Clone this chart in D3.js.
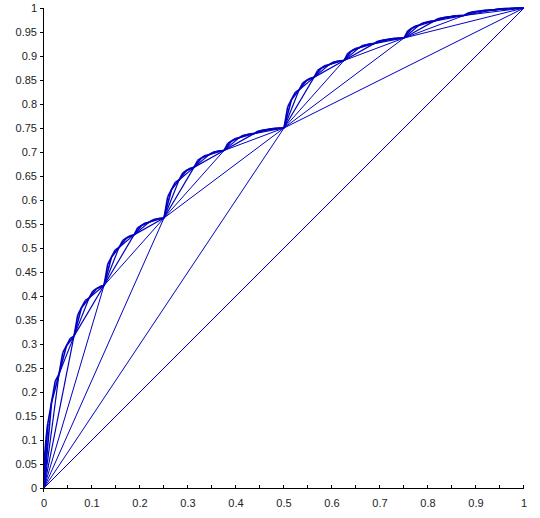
<!DOCTYPE html>
<html><head><meta charset="utf-8">
<script src="https://cdn.jsdelivr.net/npm/d3@7"></script>
<style>body{margin:0;background:#fff}svg{display:block}text{font-family:"Liberation Sans",Arial,sans-serif;font-size:11px;fill:#222}</style>
</head><body><div id="c"></div>
<script>
// curve vertices at x = k/128
const xs = [0,0.0078,0.0156,0.0234,0.0313,0.0391,0.0469,0.0547,0.0625,0.0703,0.0781,0.0859,0.0938,0.1016,0.1094,0.1172,0.125,0.1328,0.1406,0.1484,0.1563,0.1641,0.1719,0.1797,0.1875,0.1953,0.2031,0.2109,0.2188,0.2266,0.2344,0.2422,0.25,
0.2578,0.2656,0.2734,0.2813,0.2891,0.2969,0.3047,0.3125,0.3203,0.3281,0.3359,0.3438,0.3516,0.3594,0.3672,0.375,0.3828,0.3906,0.3984,0.4063,0.4141,0.4219,0.4297,0.4375,0.4453,0.4531,0.4609,0.4688,0.4766,0.4844,0.4922,0.5,
0.5078,0.5156,0.5234,0.5313,0.5391,0.5469,0.5547,0.5625,0.5703,0.5781,0.5859,0.5938,0.6016,0.6094,0.6172,0.625,0.6328,0.6406,0.6484,0.6563,0.6641,0.6719,0.6797,0.6875,0.6953,0.7031,0.7109,0.7188,0.7266,0.7344,0.7422,0.75,
0.7578,0.7656,0.7734,0.7813,0.7891,0.7969,0.8047,0.8125,0.8203,0.8281,0.8359,0.8438,0.8516,0.8594,0.8672,0.875,0.8828,0.8906,0.8984,0.9063,0.9141,0.9219,0.9297,0.9375,0.9453,0.9531,0.9609,0.9688,0.9766,0.9844,0.9922,1];
const ys = [0,0.1335,0.1780,0.2225,0.2373,0.2818,0.2966,0.3115,0.3164,0.3609,0.3757,0.3906,0.3955,0.4103,0.4153,0.4202,0.4219,0.4664,0.4812,0.4960,0.5010,0.5158,0.5208,0.5257,0.5273,0.5422,0.5471,0.5521,0.5537,0.5587,0.5603,0.5620,0.5625,
0.6070,0.6218,0.6367,0.6416,0.6564,0.6614,0.6663,0.6680,0.6828,0.6877,0.6927,0.6943,0.6993,0.7009,0.7026,0.7031,0.7180,0.7229,0.7278,0.7295,0.7344,0.7361,0.7377,0.7383,0.7432,0.7449,0.7465,0.7471,0.7487,0.7493,0.7498,0.75,
0.7945,0.8093,0.8242,0.8291,0.8439,0.8489,0.8538,0.8555,0.8703,0.8752,0.8802,0.8818,0.8868,0.8884,0.8901,0.8906,0.9055,0.9104,0.9153,0.9170,0.9219,0.9236,0.9252,0.9258,0.9307,0.9324,0.9340,0.9346,0.9362,0.9368,0.9373,0.9375,
0.9523,0.9573,0.9622,0.9639,0.9688,0.9705,0.9721,0.9727,0.9776,0.9792,0.9809,0.9814,0.9831,0.9836,0.9842,0.9844,0.9893,0.9910,0.9926,0.9932,0.9948,0.9954,0.9959,0.9961,0.9977,0.9983,0.9988,0.9990,0.9996,0.9998,0.9999,1];
// extra vertices very close to the origin
const xsNear0 = [0.00390625,0.001953125,0.0009765625,0.00048828125];
const ysNear0 = [0.1001,0.0751,0.0563,0.0422];
const yTicks = [0,0.05,0.1,0.15,0.2,0.25,0.3,0.35,0.4,0.45,0.5,0.55,0.6,0.65,0.7,0.75,0.8,0.85,0.9,0.95,1];
const yTickLabels = ["0","0.05","0.1","0.15","0.2","0.25","0.3","0.35","0.4","0.45","0.5","0.55","0.6","0.65","0.7","0.75","0.8","0.85","0.9","0.95","1"];
const xTicks = [0,0.1,0.2,0.3,0.4,0.5,0.6,0.7,0.8,0.9,1];
const xTickLabels = ["0","0.1","0.2","0.3","0.4","0.5","0.6","0.7","0.8","0.9","1"];
const xMinor = [0.05,0.15,0.25,0.35,0.45,0.55,0.65,0.75,0.85,0.95];

const W=540,H=518;
const x=d3.scaleLinear().domain([0,1]).range([44,524]);
const y=d3.scaleLinear().domain([0,1]).range([488,8]);
const svg=d3.select("#c").append("svg").attr("width",W).attr("height",H);

// chords of every dyadic interval
const segs=[];
const N=xs.length-1;
for(let step=N;step>=1;step=step/2){
  for(let i=0;i+step<=N;i+=step){segs.push({s:step,p:[xs[i],ys[i],xs[i+step],ys[i+step]]});}
}
for(let j=0;j<xsNear0.length;j++){
  segs.push({s:N,p:[0,0,xsNear0[j],ysNear0[j]]});
  const px = j===0? xs[1]:xsNear0[j-1], py = j===0? ys[1]:ysNear0[j-1];
  segs.push({s:1,p:[xsNear0[j],ysNear0[j],px,py]});
}
svg.append("g").selectAll("line").data(segs).join("line")
  .attr("x1",d=>x(d.p[0])).attr("y1",d=>y(d.p[1])).attr("x2",d=>x(d.p[2])).attr("y2",d=>y(d.p[3]))
  .attr("stroke","#0000c0").attr("stroke-width",d=>d.s<=2?1.6:(d.s<=8?1.2:1));

// axes
const ax=svg.append("g").attr("stroke","#000").attr("stroke-width",1).attr("shape-rendering","crispEdges");
ax.append("line").attr("x1",x(0)).attr("x2",x(1)).attr("y1",y(0)+0.5).attr("y2",y(0)+0.5);
ax.append("line").attr("x1",x(0)-0.5).attr("x2",x(0)-0.5).attr("y1",y(0)+4).attr("y2",y(1));
ax.selectAll(".yt").data(yTicks).join("line").attr("x1",x(0)-4).attr("x2",x(0)).attr("y1",d=>Math.round(y(d))+0.5).attr("y2",d=>Math.round(y(d))+0.5);
ax.selectAll(".xt").data(xTicks.concat(xMinor)).join("line").attr("x1",d=>Math.round(x(d))-0.5).attr("x2",d=>Math.round(x(d))-0.5).attr("y1",y(0)+0.5).attr("y2",y(0)-3);
svg.append("g").selectAll("text").data(yTicks).join("text")
  .attr("x",x(0)-7).attr("y",d=>y(d)+4).attr("text-anchor","end").text((d,i)=>yTickLabels[i]);
svg.append("g").selectAll("text").data(xTicks).join("text")
  .attr("x",d=>x(d)).attr("y",y(0)+19).attr("text-anchor","middle").text((d,i)=>xTickLabels[i]);
</script></body></html>
